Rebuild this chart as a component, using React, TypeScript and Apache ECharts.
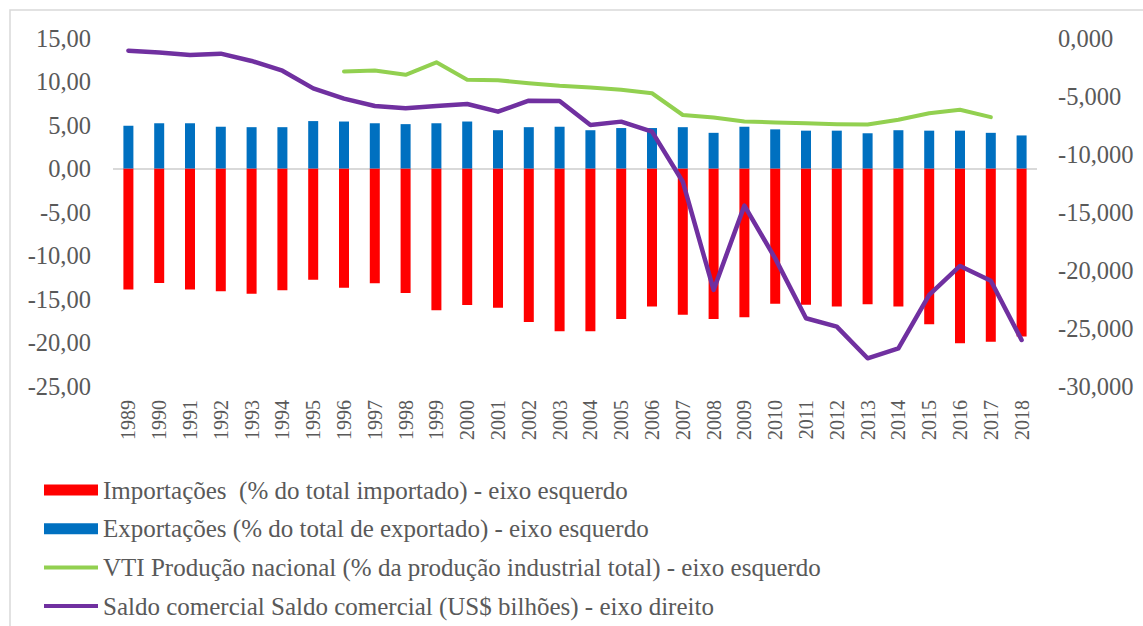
import React, { useEffect, useRef } from "react";
import * as echarts from "echarts";

const years = [
  "1989", "1990", "1991", "1992", "1993", "1994", "1995", "1996", "1997", "1998",
  "1999", "2000", "2001", "2002", "2003", "2004", "2005", "2006", "2007", "2008",
  "2009", "2010", "2011", "2012", "2013", "2014", "2015", "2016", "2017", "2018",
];

const importacoes = [
  -13.9, -13.15, -13.9, -14.1, -14.4, -14.0, -12.8, -13.7, -13.2, -14.3,
  -16.3, -15.7, -16.0, -17.65, -18.7, -18.7, -17.3, -15.85, -16.8, -17.3,
  -17.1, -15.55, -15.65, -15.85, -15.6, -15.85, -17.9, -20.1, -19.9, -19.3,
];

const exportacoes = [
  4.9, 5.2, 5.2, 4.8, 4.75, 4.75, 5.45, 5.4, 5.2, 5.1,
  5.2, 5.4, 4.4, 4.75, 4.8, 4.4, 4.65, 4.65, 4.75, 4.1,
  4.8, 4.5, 4.35, 4.35, 4.05, 4.4, 4.35, 4.35, 4.1, 3.8,
];

const vtiProducao = [
  null, null, null, null, null, null, null, 11.15, 11.27, 10.77,
  12.2, 10.2, 10.15, 9.8, 9.5, 9.3, 9.05, 8.65, 6.15, 5.85,
  5.4, 5.3, 5.2, 5.1, 5.05, 5.6, 6.35, 6.75, 5.9, null,
];

const saldoComercial = [
  -1094, -1240, -1470, -1350, -1980, -2820, -4340, -5230, -5860, -6060,
  -5860, -5690, -6350, -5400, -5430, -7500, -7210, -8070, -12390, -21720,
  -14450, -19000, -24160, -24880, -27610, -26750, -22150, -19650, -20920, -26030,
];

const seriesNames = [
  "Importações  (% do total importado) - eixo esquerdo",
  "Exportações (% do total de exportado) - eixo esquerdo",
  "VTI Produção nacional (% da produção industrial total) - eixo esquerdo",
  "Saldo comercial Saldo comercial (US$ bilhões) - eixo direito",
];

const FONT = "Liberation Serif, Times New Roman, serif";
const TEXT = "#595959";
const LINE_ICON = "path://M0,0 L0,0 M0,3.5 L54,3.5 L54,7.5 L0,7.5 Z M54,11 L54,11";

export default function App() {
  const ref = useRef<HTMLDivElement>(null);

  useEffect(() => {
    if (!ref.current) return;
    const chart = echarts.init(ref.current, null, { renderer: "svg" });
    chart.setOption({
      animation: false,
      backgroundColor: "#ffffff",
      textStyle: { fontFamily: FONT },
      graphic: [
        {
          type: "rect",
          shape: { x: 10, y: 10, width: 1300, height: 800 },
          style: { fill: "none", stroke: "#d9d9d9", lineWidth: 1.5 },
          silent: true,
          z: -10,
        },
      ],
      grid: { left: 113, right: 106, top: 38, bottom: 240, containLabel: false },
      legend: {
        orient: "vertical",
        left: 44,
        top: 477.5,
        height: 148,
        padding: 0,
        itemWidth: 54,
        itemHeight: 11,
        itemGap: 13.7,
        data: [
          { name: seriesNames[0], icon: "rect" },
          { name: seriesNames[1], icon: "rect" },
          { name: seriesNames[2], icon: LINE_ICON },
          { name: seriesNames[3], icon: LINE_ICON },
        ],
        textStyle: { fontFamily: FONT, fontSize: 25, color: TEXT, lineHeight: 25 },
      },
      xAxis: {
        type: "category",
        data: years,
        boundaryGap: true,
        axisLine: { show: false },
        axisTick: { show: false },
        splitLine: { show: false },
        axisLabel: {
          interval: 0,
          rotate: 90,
          margin: 14,
          fontFamily: FONT,
          fontSize: 20,
          color: TEXT,
        },
      },
      yAxis: [
        {
          type: "value",
          min: -25,
          max: 15,
          interval: 5,
          axisLine: { show: false },
          axisTick: { show: false },
          splitLine: { show: false },
          axisLabel: {
            margin: 22,
            fontFamily: FONT,
            fontSize: 24.5,
            color: TEXT,
            formatter: (v: number) => v.toFixed(2).replace(".", ","),
          },
        },
        {
          type: "value",
          min: -30000,
          max: 0,
          interval: 5000,
          position: "right",
          axisLine: { show: false },
          axisTick: { show: false },
          splitLine: { show: false },
          axisLabel: {
            margin: 21,
            fontFamily: FONT,
            fontSize: 24.5,
            color: TEXT,
            formatter: (v: number) => (v / 1000).toFixed(3).replace(".", ","),
          },
        },
      ],
      series: [
        {
          name: seriesNames[0],
          type: "bar",
          stack: "trade",
          barWidth: 10,
          data: importacoes,
          itemStyle: { color: "#ff0000" },
          markLine: {
            silent: true,
            symbol: "none",
            label: { show: false },
            lineStyle: { color: "#d9d9d9", type: "solid", width: 2 },
            data: [{ yAxis: 0 }],
            z: 1,
          },
        },
        {
          name: seriesNames[1],
          type: "bar",
          stack: "trade",
          barWidth: 10,
          data: exportacoes,
          itemStyle: { color: "#0070c0" },
        },
        {
          name: seriesNames[2],
          type: "line",
          yAxisIndex: 0,
          data: vtiProducao,
          symbol: "none",
          connectNulls: false,
          lineStyle: { color: "#92d050", width: 4, join: "round", cap: "round" },
          itemStyle: { color: "#92d050" },
          z: 3,
        },
        {
          name: seriesNames[3],
          type: "line",
          yAxisIndex: 1,
          data: saldoComercial,
          symbol: "none",
          lineStyle: { color: "#7030a0", width: 4.5, join: "round", cap: "round" },
          itemStyle: { color: "#7030a0" },
          z: 4,
        },
      ],
    });
    return () => chart.dispose();
  }, []);

  return (
    <div
      ref={ref}
      style={{ position: "fixed", left: 0, top: 0, width: 1143, height: 626, background: "#fff" }}
    />
  );
}
